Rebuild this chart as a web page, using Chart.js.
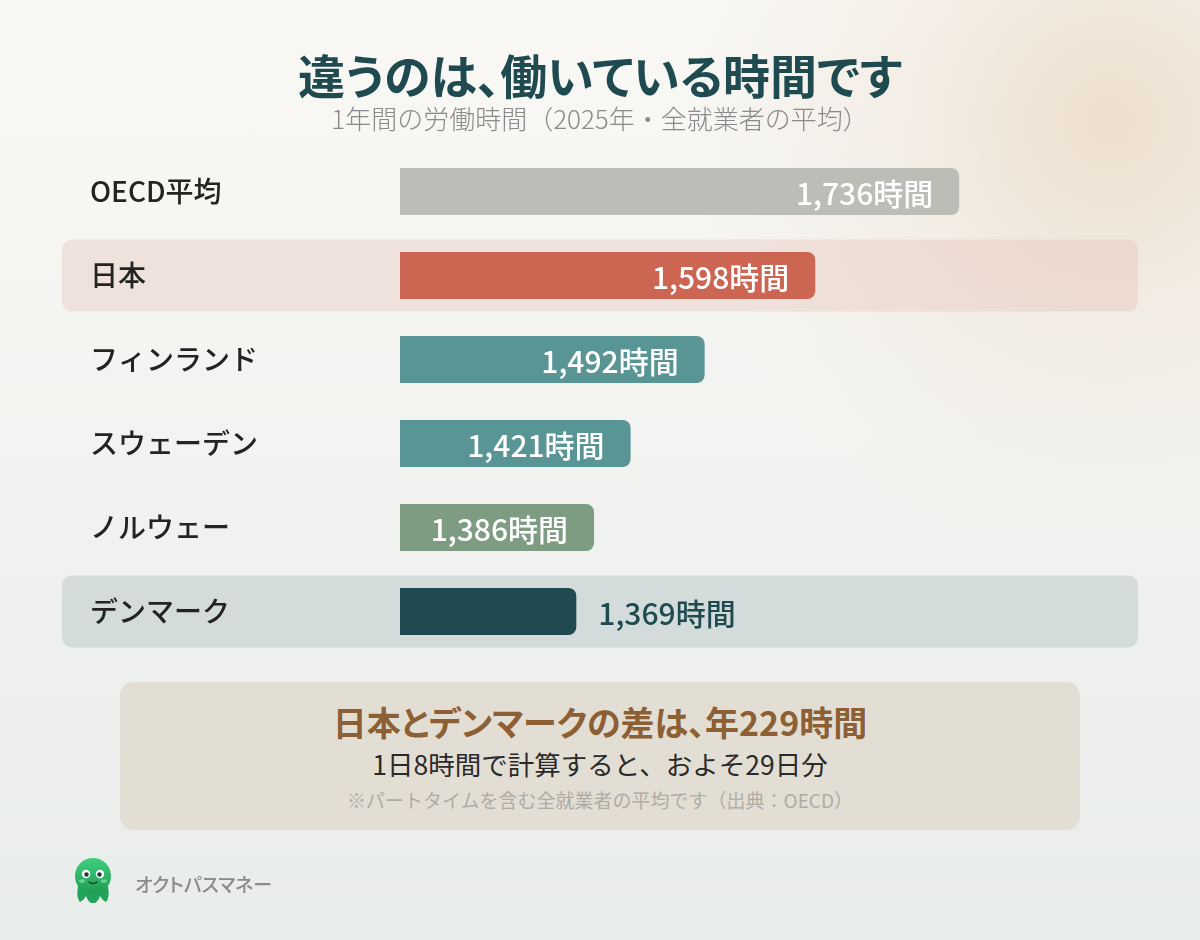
<!DOCTYPE html>
<html lang="ja">
<head>
<meta charset="utf-8">
<script src="https://cdn.jsdelivr.net/npm/chart.js@4.4.1/dist/chart.umd.min.js"></script>
<style>
  html, body { margin: 0; padding: 0; }
  body {
    width: 1200px; height: 940px; overflow: hidden; position: relative;
    font-family: "Noto Sans CJK JP", "Noto Sans", sans-serif;
    background:
      radial-gradient(circle at 1110px 120px, rgba(236,220,202,0.9) 0, rgba(240,230,218,0.55) 200px, rgba(245,243,238,0) 430px),
      linear-gradient(180deg, #f9f8f5 0%, #f2f3f0 50%, #e8ecea 100%);
  }
  #chartBox { position: absolute; left: 0; top: 0; width: 1200px; height: 940px; }
  .title {
    position: absolute; top: 46px; left: 0; width: 1200px; text-align: center;
    font-size: 47px; line-height: 56px; font-weight: 700; color: #1f4a50;
    font-feature-settings: "palt";
  }
  .subtitle {
    position: absolute; top: 101px; left: 0; width: 1200px; text-align: center;
    font-size: 26px; line-height: 34px; font-weight: 300; color: #8a8a8a;
  }
  .summary {
    position: absolute; left: 120px; top: 682px; width: 960px; height: 148px;
    border-radius: 14px; background: #e3ded4; text-align: center;
  }
  .summary .big { margin-top: 19px; font-size: 34px; line-height: 42px; font-weight: 700; color: #8d5f35; font-feature-settings: "palt"; }
  .summary .mid { margin-top: 3px; font-size: 26.5px; line-height: 36px; color: #2a2a2a; }
  .summary .note { margin-top: 4px; font-size: 19px; line-height: 28px; color: #afaca5; }
  .brand {
    position: absolute; left: 135px; top: 870px; font-size: 19px; line-height: 28px;
    font-weight: 500; color: #8a8a8a; font-feature-settings: "palt";
  }
  .logo { position: absolute; left: 70px; top: 856px; }
</style>
</head>
<body>
<div id="chartBox"><canvas id="hoursChart"></canvas></div>

<div class="title">違うのは、働いている時間です</div>
<div class="subtitle">1年間の労働時間（2025年・全就業者の平均）</div>

<div class="summary">
  <div class="big">日本とデンマークの差は、年229時間</div>
  <div class="mid">1日8時間で計算すると、およそ29日分</div>
  <div class="note">※パートタイムを含む全就業者の平均です（出典：OECD）</div>
</div>

<svg class="logo" width="46" height="50" viewBox="0 0 46 50">
  <defs>
    <linearGradient id="oct" x1="0" y1="0" x2="0" y2="1">
      <stop offset="0" stop-color="#3fcf7e"/>
      <stop offset="1" stop-color="#1f9a55"/>
    </linearGradient>
  </defs>
  <path d="M8 30 Q6 42 10 46 Q14 44 16 40 Q19 48 23 47 Q27 48 30 40 Q32 44 36 46 Q40 42 38 30 Z" fill="#22a35b"/>
  <circle cx="23" cy="20" r="18" fill="url(#oct)"/>
  <circle cx="16" cy="18" r="4.2" fill="#fff"/>
  <circle cx="30" cy="18" r="4.2" fill="#fff"/>
  <circle cx="16.5" cy="18.5" r="2.2" fill="#1e3a2c"/>
  <circle cx="29.5" cy="18.5" r="2.2" fill="#1e3a2c"/>
  <ellipse cx="12" cy="25" rx="3" ry="1.8" fill="#7fdc9f" opacity="0.8"/>
  <ellipse cx="34" cy="25" rx="3" ry="1.8" fill="#7fdc9f" opacity="0.8"/>
  <path d="M19 26 Q23 29 27 26" stroke="#1e3a2c" stroke-width="1.4" fill="none" stroke-linecap="round"/>
</svg>
<div class="brand">オクトパスマネー</div>

<script>
// データ
const categories = ["OECD平均", "日本", "フィンランド", "スウェーデン", "ノルウェー", "デンマーク"];
const hours = [1736, 1598, 1492, 1421, 1386, 1369];
const barColors = ["#bdbdb8", "#cc6653", "#5a9596", "#5a9596", "#7e9c82", "#1e4a50"];
const bandColors = [null, "rgba(220,168,156,0.24)", null, null, null, "rgba(180,196,198,0.47)"];
const axisMin = 1200;
const axisMax = 1800;
const outsideLabelIndex = 5; // デンマークだけ棒の外にラベル

Chart.defaults.font.family = '"Noto Sans CJK JP", "Noto Sans", sans-serif';

// 日本とデンマークの行の背景（軸ラベルより先に描く）
const rowBands = {
  id: "rowBands",
  beforeDraw(chart) {
    const ctx = chart.ctx;
    const yScale = chart.scales.y;
    ctx.save();
    bandColors.forEach((color, i) => {
      if (!color) return;
      const y = yScale.getPixelForValue(i);
      ctx.fillStyle = color;
      ctx.beginPath();
      ctx.roundRect(62, y - 36, 1076, 72, 10);
      ctx.fill();
    });
    ctx.restore();
  },
};

// 値ラベル
const valueLabels = {
  id: "valueLabels",
  afterDatasetsDraw(chart) {
    const ctx = chart.ctx;
    const meta = chart.getDatasetMeta(0);
    ctx.save();
    ctx.font = '500 30px "Noto Sans CJK JP"';
    ctx.textBaseline = "middle";
    meta.data.forEach((bar, i) => {
      const text = hours[i].toLocaleString("en-US") + "時間";
      if (i === outsideLabelIndex) {
        ctx.textAlign = "left";
        ctx.fillStyle = "#1e4a50";
        ctx.fillText(text, bar.x + 22, bar.y + 2);
      } else {
        ctx.textAlign = "right";
        ctx.fillStyle = "#ffffff";
        ctx.fillText(text, bar.x - 26, bar.y + 2);
      }
    });
    ctx.restore();
  },
};

const ctx = document.getElementById("hoursChart").getContext("2d");
const hoursChart = new Chart(ctx, {
  type: "bar",
  data: {
    labels: categories,
    datasets: [
      {
        data: hours,
        backgroundColor: barColors,
        borderRadius: 8,
        borderSkipped: false,
        barPercentage: 0.56,
        categoryPercentage: 1,
      },
    ],
  },
  options: {
    indexAxis: "y",
    responsive: true,
    maintainAspectRatio: false,
    animation: false,
    layout: {
      padding: { top: 149.5, bottom: 286.5, left: 90, right: 174 },
    },
    plugins: {
      legend: { display: false },
      tooltip: { enabled: false },
    },
    scales: {
      x: {
        display: false,
        min: axisMin,
        max: axisMax,
      },
      y: {
        grid: { display: false },
        border: { display: false },
        ticks: {
          crossAlign: "far",
          padding: 0,
          color: "#232323",
          font: { size: 28, weight: 500 },
        },
        afterFit(scale) {
          scale.width = 310;
        },
      },
    },
  },
  plugins: [rowBands, valueLabels],
});
</script>
</body>
</html>
